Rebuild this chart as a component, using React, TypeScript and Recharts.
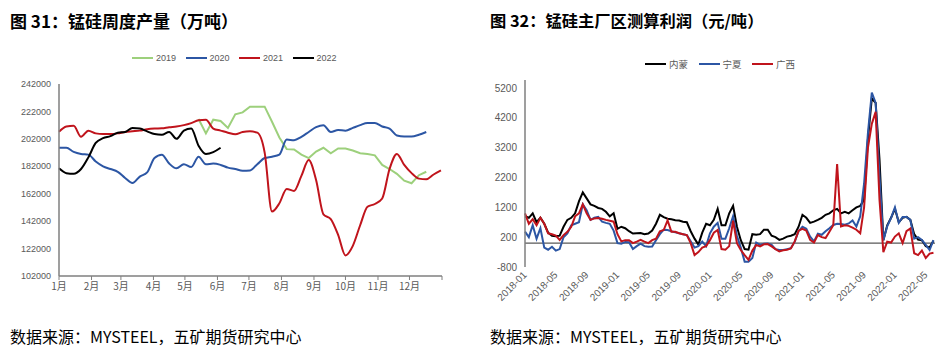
import { Legend, Line, LineChart, ReferenceLine, XAxis, YAxis } from "recharts";

// ---- 图31 锰硅周度产量 (weekly, x = day of year) ----
const monthLabels = ["1月", "2月", "3月", "4月", "5月", "6月", "7月", "8月", "9月", "10月", "11月", "12月"];
const monthStartDays = [0, 31, 59, 90, 120, 151, 181, 212, 243, 273, 304, 334, 365];
const outputTicks = [102000, 122000, 142000, 162000, 182000, 202000, 222000, 242000];

const output2019Start = 19; // first week with 2019 data
const output2019 = [
  216500, 206000, 216000, 215000, 210000, 219900, 221300, 225500, 225500, 225500,
  214500, 203000, 194500, 194300, 190500, 188000, 192700, 195500, 191500, 195000,
  195000, 193500, 191500, 191000, 190000, 183000, 180000, 176500, 171500, 169600,
  175500, 178000,
];
const output2020 = [
  195500, 195500, 192500, 191000, 190500, 185500, 182000, 180000, 178000, 173500,
  169800, 174500, 177500, 188000, 190500, 184000, 180500, 183500, 181500, 189000,
  183500, 184000, 183000, 181000, 180000, 178700, 179000, 183500, 188000, 189000,
  190500, 201500, 201000, 203500, 207000, 210500, 212000, 207000, 208500, 208000,
  210000, 212000, 213500, 213500, 211000, 209500, 204500, 203700, 203700, 205000,
  207000,
];
const output2021 = [
  207200, 211000, 211500, 203500, 208000, 206000, 205500, 205500, 206000, 207000,
  207500, 208000, 209000, 209500, 209700, 210500, 211000, 212000, 213500, 215500,
  216000, 209500, 208000, 206500, 205300, 207000, 207500, 206500, 192000, 149000,
  155000, 165500, 164000, 175000, 186500, 172000, 147000, 143500, 132000, 117000,
  124000, 139000, 152500, 154500, 158500, 180000, 191000, 183000, 177000, 173000,
  172500, 176000, 179000,
];
const output2022 = [
  180500, 177000, 176500, 180000, 188500, 199000, 202500, 204000, 206500, 207000,
  210000, 209500, 207500, 205500, 205000, 207000, 202000, 208000, 209500, 197000,
  191000, 192300, 195500,
];

// ---- 图32 锰硅主厂区测算利润 (half-month steps from 2018-01) ----
const profitTicks = [-800, 200, 1200, 2200, 3200, 4200, 5200];
const dateTicks = [0, 4, 8, 12, 16, 20, 24, 28, 32, 36, 40, 44, 48, 52];

const neimeng = [
  900, 850, 1000, 700, 850, 650, 350, 250, 230, 250,
  550, 780, 850, 1000, 1400, 1700, 1500, 1300, 1250, 1180,
  1150, 1050, 900, 1000, 480, 550, 500, 400, 320, 330,
  340, 300, 320, 420, 650, 950, 870, 820, 800, 770,
  760, 720, 700, 400, 150, -50, 350, 650, 600, 780,
  1150, 600, 600, 1000, 1250, 550, 100, -200, -220, 300,
  280, 300, 450, 450, 250, 200, 110, 150, 220, 250,
  300, 550, 950, 850, 680, 720, 780, 850, 950, 1000,
  1100, 1150, 1000, 1050, 1000, 1100, 1200, 1250, 1450, 3500,
  4850, 4700, 2800, 100, 600, 850, 1150, 700, 850, 880,
  780, 300, 120, 100, -100, -150, 80,
];
const ningxia = [
  385, 200, 600, 150, 500, -150, -220, -120, -250, -200,
  200, 330, 600, 650, 700, 1300, 1100, 780, 850, 880,
  720, 680, 650, 420, 0, -20, 40, 30, -200, -100,
  -20, -100, -120, -110, 100, 300, 450, 440, 400, 360,
  330, 300, 270, 60, -150, -100, 50, -100, 330, 550,
  680, 150, 150, 500, 900, 250, -150, -620, -620, -500,
  20, -60, -20, -10, -60, -200, -230, -230, -200, -170,
  50, 400, 550, 480, 220, 60, 320, 280, 400, 500,
  610, 650, 640, 620, 660, 760, 560, 900, 2000, 3700,
  5050, 4700, 2230, 100, 560, 850, 1200, 680, 880, 880,
  780, 150, 200, 110, -60, -230, 100,
];
const guangxi = [
  1000, 650, 800, 600, 850, 650, 330, 300, 250, 110,
  270, 380, 550, 900, 1000, 1300, 1000, 780, 830, 840,
  820, 780, 750, 720, 300, 60, 100, 100, 0, 50,
  110, 50, 0, 100, 150, 400, 440, 760, 380, 380,
  330, 300, 270, 0, -400, -300, -150, -100, 100, 350,
  440, -200, -220, -100, 750, 0, -230, -400, -560, -250,
  -60, -110, -40, -30, -110, -200, -280, -240, -220, -180,
  60, 420, 480, 420, 110, 20, 270, 200, 170, 380,
  600, 2650, 560, 600, 580, 520, 450, 330, 1200, 3200,
  4000, 4400, 1450, -300, 50, 20, 220, 330, 0, 400,
  490, -340, -400, -250, -500, -350, -320,
];

const outputData = output2021.map((v, w) => ({
  day: w * 7,
  y2019: w >= output2019Start ? output2019[w - output2019Start] ?? null : null,
  y2020: output2020[w] ?? null,
  y2021: v,
  y2022: output2022[w] ?? null,
}));

const profitData = neimeng.map((v, i) => ({
  t: i / 2,
  neimeng: v,
  ningxia: ningxia[i],
  guangxi: guangxi[i],
}));

const AXIS = "#7f7f7f";
const LABEL = "#595959";
const tickFont = { fontSize: 9, fill: LABEL, fontFamily: "Liberation Sans, Arial, sans-serif" };

function dateLabel(t: number) {
  const y = 2018 + Math.floor(t / 12);
  const m = (t % 12) + 1;
  return `${y}-${m < 10 ? "0" : ""}${m}`;
}

function DateTick({ x, y, payload }: any) {
  return (
    <g transform={`translate(${x},${y})`}>
      <text
        transform="rotate(-45)"
        textAnchor="end"
        dy="0.35em"
        fontSize={10}
        fill={LABEL}
        fontFamily="Liberation Sans, Arial, sans-serif"
      >
        {dateLabel(payload.value)}
      </text>
    </g>
  );
}

function LegendRow({ items, fontSize }: { items: { name: string; color: string }[]; fontSize: number }) {
  return (
    <div style={{ display: "flex", alignItems: "center" }}>
      {items.map((it) => (
        <div key={it.name} style={{ display: "flex", alignItems: "center", width: 53.5 }}>
          <span style={{ display: "inline-block", width: 21, height: 2, background: it.color, marginRight: 3 }} />
          <span style={{ fontSize, color: LABEL, fontFamily: "Liberation Sans, Arial, 'Noto Sans CJK SC', sans-serif" }}>
            {it.name}
          </span>
        </div>
      ))}
    </div>
  );
}

const titleStyle: React.CSSProperties = {
  position: "absolute",
  fontFamily: "'Noto Sans CJK SC', sans-serif",
  fontWeight: 700,
  fontSize: 17,
  lineHeight: "17px",
  color: "#000",
  whiteSpace: "nowrap",
};

const footStyle: React.CSSProperties = {
  position: "absolute",
  fontFamily: "'Noto Sans CJK SC', sans-serif",
  fontSize: 16,
  lineHeight: "16px",
  color: "#000",
  whiteSpace: "nowrap",
};

export default function App() {
  return (
    <div style={{ position: "absolute", left: 0, top: 0, width: 950, height: 357, background: "#fff", overflow: "hidden" }}>
      <div style={{ ...titleStyle, left: 10, top: 12 }}>图 31：锰硅周度产量（万吨）</div>
      <div style={{ ...titleStyle, left: 490, top: 12, fontSize: 16.3 }}>图 32：锰硅主厂区测算利润（元/吨）</div>

      <div style={{ position: "absolute", left: 0, top: 0 }}>
        <LineChart width={475} height={357} data={outputData} margin={{ top: 84, right: 33, bottom: 51, left: 0 }}>
          <XAxis
            type="number"
            dataKey="day"
            domain={[0, 365]}
            ticks={monthStartDays}
            tickFormatter={(d: number) => monthLabels[monthStartDays.indexOf(d)] ?? ""}
            interval={0}
            height={30}
            tick={{ ...tickFont, fontSize: 10, fontFamily: "'Noto Sans CJK SC', sans-serif" }}
            tickSize={4}
            tickMargin={3}
            axisLine={{ stroke: AXIS, strokeWidth: 1.5 }}
            tickLine={{ stroke: AXIS }}
          />
          <YAxis
            type="number"
            domain={[102000, 242000]}
            ticks={outputTicks}
            interval={0}
            width={59}
            tick={tickFont}
            axisLine={{ stroke: AXIS, strokeWidth: 1.5 }}
            tickLine={false}
          />
          <Legend
            layout="horizontal"
            verticalAlign="middle"
            align="center"
            wrapperStyle={{ top: 53, left: 132, width: 240, height: 12 }}
            content={() => (
              <LegendRow
                fontSize={9}
                items={[
                  { name: "2019", color: "#9dd07c" },
                  { name: "2020", color: "#2c56a4" },
                  { name: "2021", color: "#c0141c" },
                  { name: "2022", color: "#000000" },
                ]}
              />
            )}
          />
          <Line type="linear" dataKey="y2019" stroke="#9dd07c" strokeWidth={2} dot={false} activeDot={false} isAnimationActive={false} />
          <Line type="monotone" dataKey="y2020" stroke="#2c56a4" strokeWidth={2} dot={false} activeDot={false} isAnimationActive={false} />
          <Line type="monotone" dataKey="y2021" stroke="#c0141c" strokeWidth={2} dot={false} activeDot={false} isAnimationActive={false} />
          <Line type="monotone" dataKey="y2022" stroke="#000000" strokeWidth={2} dot={false} activeDot={false} isAnimationActive={false} />
        </LineChart>
      </div>

      <div style={{ position: "absolute", left: 475, top: 0 }}>
        <LineChart width={475} height={357} data={profitData} margin={{ top: 80, right: 15, bottom: 30, left: 0 }}>
          <XAxis
            type="number"
            dataKey="t"
            domain={[0, 53.2]}
            ticks={dateTicks}
            interval={0}
            height={60}
            tick={<DateTick />}
            tickSize={4}
            tickMargin={2}
            axisLine={false}
            tickLine={false}
          />
          <YAxis
            type="number"
            domain={[-800, 5470]}
            ticks={profitTicks}
            interval={0}
            width={50}
            tick={{ ...tickFont, fontSize: 10 }}
            axisLine={{ stroke: AXIS, strokeWidth: 1.5 }}
            tickLine={false}
          />
          <ReferenceLine y={0} stroke="#595959" strokeWidth={1.3} />
          <Legend
            layout="horizontal"
            verticalAlign="middle"
            align="center"
            wrapperStyle={{ top: 57, left: 170, width: 200, height: 12 }}
            content={() => (
              <LegendRow
                fontSize={9.5}
                items={[
                  { name: "内蒙", color: "#000000" },
                  { name: "宁夏", color: "#2c56a4" },
                  { name: "广西", color: "#c0141c" },
                ]}
              />
            )}
          />
          <Line type="linear" dataKey="neimeng" stroke="#000000" strokeWidth={2} dot={false} activeDot={false} isAnimationActive={false} />
          <Line type="linear" dataKey="ningxia" stroke="#2c56a4" strokeWidth={2} dot={false} activeDot={false} isAnimationActive={false} />
          <Line type="linear" dataKey="guangxi" stroke="#c0141c" strokeWidth={2} dot={false} activeDot={false} isAnimationActive={false} />
        </LineChart>
      </div>

      <div style={{ ...footStyle, left: 10, top: 328 }}>数据来源：MYSTEEL，五矿期货研究中心</div>
      <div style={{ ...footStyle, left: 490, top: 328 }}>数据来源：MYSTEEL，五矿期货研究中心</div>
    </div>
  );
}
